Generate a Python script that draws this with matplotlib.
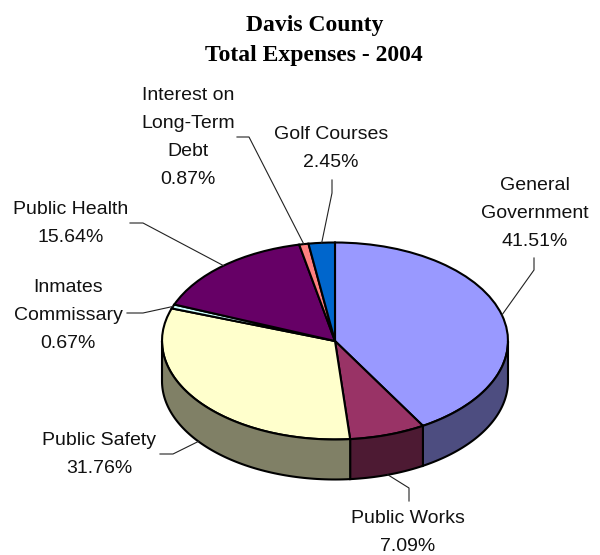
# Davis County total expenses for 2004, drawn as a tilted pie with a rim
import numpy as np
import matplotlib
matplotlib.use('Agg')
import matplotlib.pyplot as plt

categories = ['General\nGovernment', 'Public Works', 'Public Safety', 'Inmates\nCommissary',
              'Public Health', 'Interest on\nLong-Term\nDebt', 'Golf Courses']
shares = [41.51, 7.09, 31.76, 0.67, 15.64, 0.87, 2.45]
top_colors = ['#9999FF', '#993366', '#FFFFCC', '#CCFFFF', '#660066', '#FF8080', '#0066CC']
rim_colors = ['#4D4D80', '#4D1A33', '#808066', '#668080', '#330033', '#804040', '#003366']

# pie centre and radii in pixels, the rim hangs below the top ellipse
W, H = 600, 555
CX, CY, RX, RY, RIM = 335, 341, 173, 98.5, 40

# where each label sits (pixels) and the bends of its leader line
label_pos = [(535, 213.5), (408, 532.5), (99, 454.5), (68, 315.5), (71, 223.5), (188, 137.5), (331, 148.5)]
leader_bends = [[(534, 270), (534, 258)], [(409, 488), (409, 501)], [(173, 454), (160, 454)],
                [(143, 313), (127, 313)], [(143, 223), (130, 223)], [(249, 137), (237, 137)],
                [(332, 193), (332, 180)]]


def px(x, y):
    # pixel position to the unit-circle coordinates of the pie
    return (x - CX) / RX, (CY - y) / RY


fig = plt.figure(figsize=(W / 100, H / 100), dpi=100)
ax = fig.add_axes([0, 0, 1, 1])
ax.pie(shares, colors=top_colors, startangle=90, counterclock=False, radius=1,
       wedgeprops={'edgecolor': 'black', 'linewidth': 1.5})
ax.set_aspect('auto')
ax.set_xlim(px(0, 0)[0], px(W, 0)[0])
ax.set_ylim(px(0, H)[1], px(0, 0)[1])
ax.axis('off')

depth = RIM / RY
edges = 90 - np.cumsum([0] + shares) / sum(shares) * 360

# rim: only the part of each slice on the front half of the ellipse shows
for i in range(len(shares)):
    a = max(edges[i + 1], -180)
    b = min(edges[i], 0)
    if a >= b:
        continue
    t = np.radians(np.linspace(a, b, 80))
    xs = np.concatenate([np.cos(t), np.cos(t[::-1])])
    ys = np.concatenate([np.sin(t), np.sin(t[::-1]) - depth])
    ax.fill(xs, ys, facecolor=rim_colors[i], edgecolor='black', linewidth=1.5, zorder=3)

# leader lines start at the middle of the slice, on the rim for front slices
for i in range(len(shares)):
    mid = np.radians((edges[i] + edges[i + 1]) / 2)
    x0, y0 = np.cos(mid), np.sin(mid)
    if y0 < 0:
        y0 -= depth
    pts = [px(*p) for p in leader_bends[i]]
    ax.plot([x0] + [p[0] for p in pts], [y0] + [p[1] for p in pts], color='#222222', lw=0.8, zorder=4)

for i in range(len(shares)):
    x, y = px(*label_pos[i])
    ax.text(x, y, f'{categories[i]}\n{shares[i]:.2f}%', ha='center', va='center', family='Liberation Sans',
            fontsize=14, linespacing=1.84, color='#111111', zorder=5)

tx, ty = px(315, 25)
ax.text(tx, ty, 'Davis County', ha='center', va='center', family='Liberation Serif',
        fontweight='bold', fontsize=17, color='black')
tx, ty = px(314, 56)
ax.text(tx, ty, 'Total Expenses - 2004', ha='center', va='center', family='Liberation Serif',
        fontweight='bold', fontsize=17, color='black')

fig.savefig('out.png', dpi=100)
